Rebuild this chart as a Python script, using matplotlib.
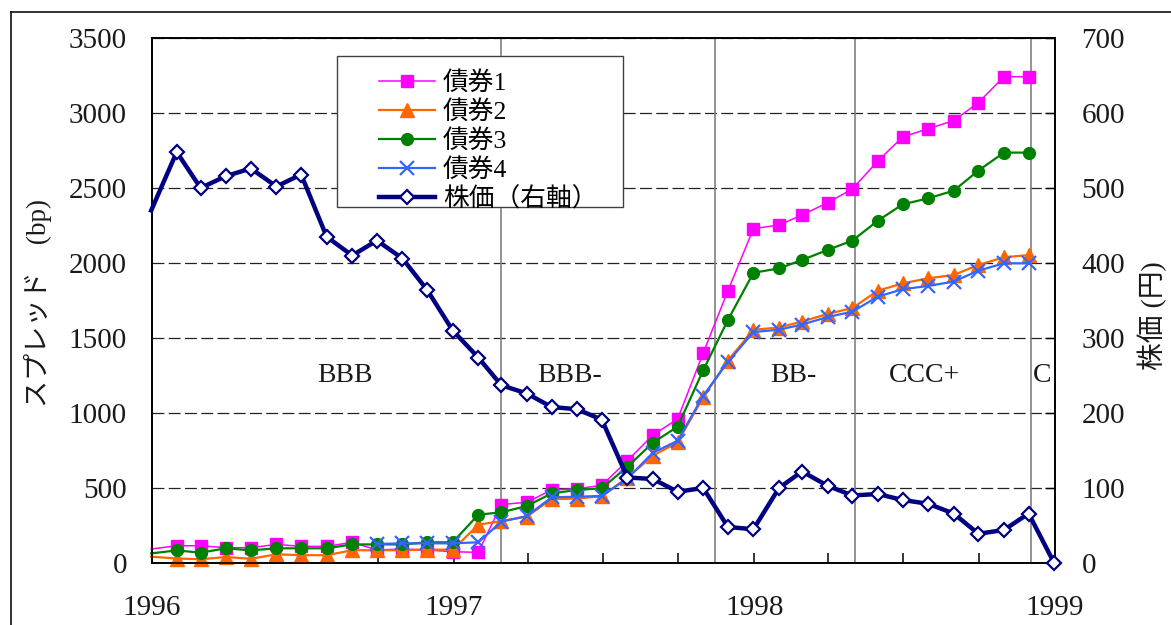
import matplotlib
matplotlib.use('Agg')
import matplotlib.pyplot as plt
import matplotlib.dates as mdates
from matplotlib.lines import Line2D
from matplotlib.patches import Rectangle
from matplotlib.font_manager import FontProperties
import numpy as np
import pandas as pd

# ---------------- data ----------------
months = pd.date_range('1995-12-31', periods=37, freq='ME')   # Dec-1995 .. Dec-1998 (month ends)

stock = [470,
         548, 500, 516, 526, 502, 518, 435, 410, 430, 406, 364, 310,
         274, 237, 226, 208, 205, 191, 114, 112, 95, 100, 48, 45,
         100, 122, 103, 90, 92, 84, 79, 66, 39, 44, 66, 0]

bond1 = [93,
         115, 115, 102, 102, 124, 111, 111, 138, 87, 93, 87, 75,
         71, 390, 405, 487, 495, 518, 682, 853, 960, 1400, 1815, 2229,
         2253, 2320, 2402, 2493, 2680, 2840, 2895, 2949, 3069, 3242, 3242]

bond2 = [42,
         30, 25, 40, 28, 58, 52, 52, 85, 85, 85, 90, 88,
         255, 280, 310, 425, 430, 445, 570, 715, 805, 1105, 1350, 1555,
         1570, 1610, 1660, 1700, 1815, 1864, 1898, 1920, 1987, 2038, 2053]

bond3 = [64,
         84, 69, 98, 84, 98, 98, 98, 124, 124, 124, 138, 138,
         322, 338, 380, 464, 487, 498, 642, 802, 909, 1285, 1620, 1935,
         1964, 2020, 2087, 2149, 2282, 2391, 2431, 2482, 2616, 2736, 2736]

bond4 = [np.nan] * 9 + [
         127, 131, 131, 131,
         138, 275, 313, 438, 442, 447, 564, 735, 815, 1115, 1340, 1540,
         1555, 1590, 1640, 1675, 1776, 1825, 1847, 1876, 1949, 1998, 1998]

series_labels = ['債券1', '債券2', '債券3', '債券4', '株価（右軸）']

rating_bounds = ['1997-02-27', '1997-11-14', '1998-05-03', '1998-12-03']
rating_labels = ['BBB', 'BBB-', 'BB-', 'CCC+', 'C']
rating_label_dates = ['1996-08-22', '1997-05-22', '1998-02-18', '1998-07-26', '1998-12-16']
rating_label_level = 1250

left_ticks = list(range(0, 3501, 500))
right_ticks = list(range(0, 701, 100))

# ---------------- styling ----------------
SERIF = 'Liberation Serif'
JP = 'Noto Sans CJK JP'
MIX = [SERIF, JP]

W, H = 1171, 625
fig = plt.figure(figsize=(W / 100, H / 100), dpi=100)
fig.patch.set_facecolor('white')

L, R, T, B = 152, 1055, 38, 563
ax = fig.add_axes([L / W, 1 - B / H, (R - L) / W, (B - T) / H])
ax2 = ax.twinx()

xd = months
bond_n = len(bond1)

l1, = ax.plot(xd[:bond_n], bond1, color='#FF00FF', lw=1.1, marker='s', ms=8.5,
              markevery=slice(1, None), clip_on=False, zorder=3)
l2, = ax.plot(xd[:bond_n], bond2, color='#FF6600', lw=1.6, marker='^', ms=10,
              markevery=slice(1, None), clip_on=False, zorder=3)
l3, = ax.plot(xd[:bond_n], bond3, color='#008000', lw=1.6, marker='o', ms=8.5,
              markevery=slice(1, None), clip_on=False, zorder=3)
l4, = ax.plot(xd[:bond_n], bond4, color='#3366FF', lw=1.6, marker='x', ms=9.5,
              mew=1.6, clip_on=False, zorder=3)
l5, = ax2.plot(xd, stock, color='#000080', lw=3.2, marker='D', ms=7.5,
               mfc='white', mec='#000080', mew=1.6,
               markevery=slice(1, None), clip_on=False, zorder=3)

# rating boundaries
for d in rating_bounds:
    ax.axvline(pd.Timestamp(d), color='#808080', lw=1.2, zorder=1)
for lab, d in zip(rating_labels, rating_label_dates):
    ax.text(pd.Timestamp(d), rating_label_level, lab, ha='center', va='center',
            fontsize=20, family=SERIF, color='#1a1a1a', zorder=2)

# axes limits / ticks
ax.set_xlim(pd.Timestamp('1996-01-01'), pd.Timestamp('1999-01-01'))
ax.set_ylim(0, 3500)
ax2.set_ylim(0, 700)
ax.set_yticks(left_ticks)
ax2.set_yticks(right_ticks)
ax.xaxis.set_major_locator(mdates.YearLocator())
ax.xaxis.set_major_formatter(mdates.DateFormatter('%Y'))
ax.xaxis.set_minor_locator(mdates.MonthLocator(bymonth=[4, 7, 10]))

ax.tick_params(axis='x', which='both', direction='in', length=7, width=1.1,
               pad=23, labelsize=21)
ax.tick_params(axis='y', direction='in', length=0, pad=18, labelsize=21)
ax2.tick_params(axis='y', direction='in', length=7, width=1.0, pad=19, labelsize=21)
for lab in ax.get_xticklabels() + ax.get_yticklabels() + ax2.get_yticklabels():
    lab.set_family(SERIF)
    lab.set_color('#1a1a1a')

for a in (ax, ax2):
    for s in a.spines.values():
        s.set_color('black')
        s.set_linewidth(1.2)

ax.set_axisbelow(True)
ax.yaxis.grid(True, linestyle=(0, (9.5, 3.5)), color='#222222', lw=0.9)

# axis titles
fig.text(38 / W, 1 - 303 / H, 'スプレッド\u3000(bp)', rotation=90, ha='center', va='center',
         fontsize=19.5, family=MIX, color='#1a1a1a')
fig.text(1152 / W, 1 - 316 / H, '株価 (円)', rotation=90, ha='center', va='center',
         fontsize=20, family=MIX, color='#1a1a1a')

# legend with a separate white box
box = Rectangle((337 / W, 1 - 207 / H), (623 - 337) / W, (207 - 56) / H,
                transform=fig.transFigure, facecolor='white', edgecolor='#404040',
                lw=1.0, zorder=4.5, clip_on=False)
ax2.add_patch(box)
leg = ax2.legend([l1, l2, l3, l4, l5], series_labels, loc='upper left',
                 bbox_to_anchor=(366 / W, 1 - 58 / H), bbox_transform=fig.transFigure,
                 frameon=False, borderpad=0, handlelength=2.2, handletextpad=0.3,
                 labelspacing=0.2, prop=FontProperties(family=MIX, size=18.5))
leg.set_zorder(5)

# outer frame of the figure
fig.add_artist(Line2D([11 / W, 11 / W], [0, 1 - 12 / H], transform=fig.transFigure,
                      color='#111111', lw=1.2))
fig.add_artist(Line2D([11 / W, 1], [1 - 12 / H, 1 - 12 / H], transform=fig.transFigure,
                      color='#111111', lw=1.2))

fig.savefig('out.png', dpi=100)
